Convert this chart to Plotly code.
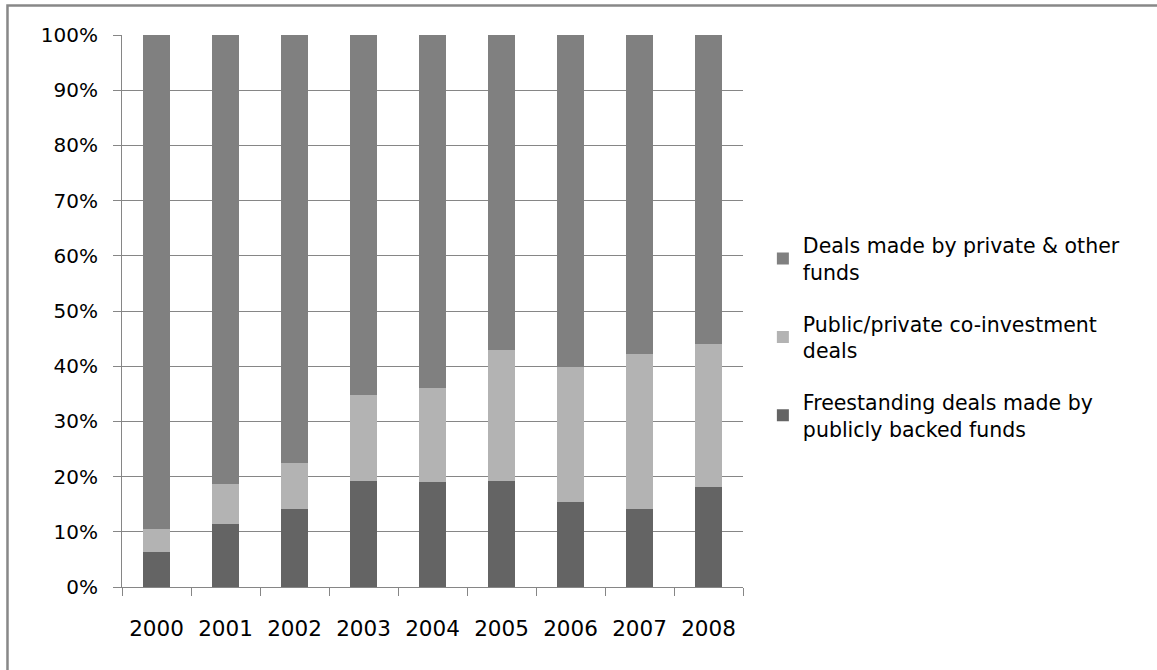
import plotly.graph_objects as go

years = ["2000", "2001", "2002", "2003", "2004", "2005", "2006", "2007", "2008"]
freestanding = [6.3, 11.5, 14.1, 19.2, 19.0, 19.2, 15.4, 14.1, 18.2]
coinvest_top = [10.5, 18.6, 22.4, 34.8, 36.0, 42.9, 39.8, 42.2, 44.0]
coinvest = [round(t - f, 1) for t, f in zip(coinvest_top, freestanding)]
private = [round(100 - t, 1) for t in coinvest_top]

names = [
    "Freestanding deals made by<br>publicly backed funds",
    "Public/private co-investment<br>deals",
    "Deals made by private & other<br>funds",
]
colors = ["#646464", "#b3b3b3", "#808080"]
series = [freestanding, coinvest, private]
ranks = [3, 2, 1]

FONT = "'DejaVu Sans', 'Open Sans', sans-serif"

fig = go.Figure()
for i, (n, c, s, r) in enumerate(zip(names, colors, series, ranks)):
    fig.add_trace(go.Bar(x=years, y=s, name=n, legendgroup=f"g{i}", legendrank=r,
                         marker=dict(color=c, line=dict(width=0)), width=0.4))

fig.update_layout(
    barmode="stack",
    width=1157, height=670,
    margin=dict(l=122, r=414, t=35, b=83),
    paper_bgcolor="white", plot_bgcolor="white",
    font=dict(family=FONT, color="#000000"),
    showlegend=True,
    legend=dict(
        traceorder="grouped",
        x=1.032, xanchor="left", y=0.655, yanchor="top",
        font=dict(size=20.5, family=FONT, color="#000000"),
        tracegroupgap=22,
        itemwidth=30,
        bgcolor="rgba(0,0,0,0)",
    ),
    bargap=0.6,
)
fig.update_xaxes(
    showline=True, linecolor="#868686", linewidth=1,
    ticks="outside", ticklen=8, tickcolor="#868686", tickson="boundaries",
    tickfont=dict(size=21.5, family=FONT, color="#000000"),
    ticklabelstandoff=22,
    showgrid=False,
)
fig.update_yaxes(
    range=[0, 100], tickvals=list(range(0, 101, 10)),
    ticktext=[f"{v}%" for v in range(0, 101, 10)],
    showline=True, linecolor="#868686", linewidth=1,
    ticks="outside", ticklen=8, tickcolor="#868686",
    showgrid=True, gridcolor="#868686", gridwidth=1,
    tickfont=dict(size=20, family=FONT, color="#000000"),
    ticklabelstandoff=11,
    zeroline=False,
)
fig.add_shape(type="rect", xref="paper", yref="paper",
              x0=-0.1844, x1=1.9, y0=-0.4, y1=1.0534,
              line=dict(color="#888888", width=2.5), fillcolor="rgba(0,0,0,0)", layer="above")

fig.write_html("out.html", config={"displayModeBar": False},
               post_script="document.body.style.margin='0';document.body.style.overflow='hidden';")
